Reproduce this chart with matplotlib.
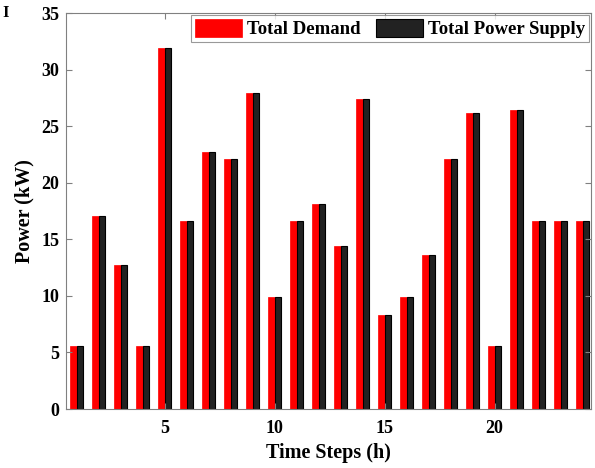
import matplotlib
matplotlib.use("Agg")
import matplotlib.pyplot as plt
import numpy as np

time_steps = list(range(1, 25))
total_demand = [5.6, 17.1, 12.7, 5.6, 31.9, 16.6, 22.7, 22.1, 27.9, 9.9, 16.6, 18.1,
                14.4, 27.4, 8.3, 9.9, 13.6, 22.1, 26.2, 5.6, 26.4, 16.6, 16.6, 16.6]
total_supply = [5.6, 17.1, 12.7, 5.6, 31.9, 16.6, 22.7, 22.1, 27.9, 9.9, 16.6, 18.1,
                14.4, 27.4, 8.3, 9.9, 13.6, 22.1, 26.2, 5.6, 26.4, 16.6, 16.6, 16.6]
series_names = ["Total Demand", "Total Power Supply"]
x_ticks = [5, 10, 15, 20]
y_ticks = [0, 5, 10, 15, 20, 25, 30, 35]

plt.rcParams['font.family'] = ['Liberation Serif', 'DejaVu Serif']
plt.rcParams['font.weight'] = 'bold'

fig = plt.figure(figsize=(5.95, 4.68), dpi=100)
ax = fig.add_axes([0.111, 0.126, 0.883, 0.846])

x = np.array(time_steps, dtype=float)
w = 0.31
ax.bar(x - w / 2, total_demand, width=w, color='#ff0000', edgecolor='#ff0000',
       linewidth=0.5, label=series_names[0])
ax.bar(x + w / 2, total_supply, width=w, color='#222222', edgecolor='black',
       linewidth=0.8, label=series_names[1])

ax.set_xlim(0.52, 24.4)
ax.set_ylim(0, 35)
ax.set_xticks(x_ticks)
ax.set_yticks(y_ticks)
ax.tick_params(direction='in', top=True, right=True, length=4, width=0.8,
               color='#808080', labelsize=13)
ax.tick_params(axis='x', pad=8)
ax.tick_params(axis='y', pad=5)
for lab in ax.get_xticklabels() + ax.get_yticklabels():
    lab.set_fontweight('bold')
for s in ax.spines.values():
    s.set_color('#808080')
    s.set_linewidth(0.8)

ax.set_xlabel("Time Steps (h)", fontsize=14.5, fontweight='bold', labelpad=4)
ax.set_ylabel("Power (kW)", fontsize=14.5, fontweight='bold', labelpad=5)

leg = ax.legend(loc='upper right', ncol=2, frameon=True, fancybox=False,
                handlelength=2.5, handleheight=1.1, handletextpad=0.3,
                columnspacing=0.8, borderpad=0.2, borderaxespad=0.12,
                prop={'weight': 'bold', 'size': 13.5})
leg.get_frame().set_edgecolor('#808080')
leg.get_frame().set_linewidth(0.8)

fig.text(0.004, 0.99, "I", fontsize=12, fontweight='bold', va='top', ha='left')

fig.savefig("out.png", dpi=100)
